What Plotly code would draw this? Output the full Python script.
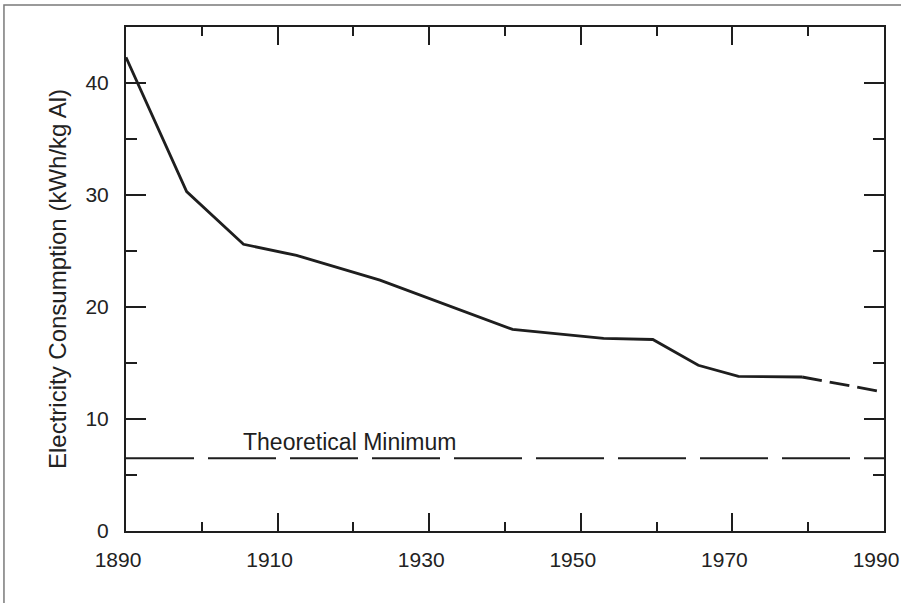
import plotly.graph_objects as go

# Historical (solid) series
years_actual = [1890, 1898, 1905.5, 1912.5, 1923.5, 1941, 1953, 1959.5, 1965.5, 1970.8, 1979.2]
kwh_actual = [42.3, 30.3, 25.6, 24.6, 22.4, 18.0, 17.2, 17.1, 14.8, 13.8, 13.75]
# Projected (dashed) series
years_proj = [1979.2, 1990]
kwh_proj = [13.75, 12.4]
# Theoretical minimum
years_min = [1890, 1990]
kwh_min = [6.5, 6.5]
min_label = "Theoretical Minimum"

x_ticks = [1890, 1910, 1930, 1950, 1970, 1990]
y_ticks = [0, 10, 20, 30, 40]

ink = "#1e1e1e"
font_family = "Liberation Sans, Arial, Helvetica, sans-serif"

fig = go.Figure()
fig.add_trace(go.Scatter(x=years_min, y=kwh_min, mode="lines",
                         line=dict(color=ink, width=2, dash="68px,14px"),
                         showlegend=False, hoverinfo="skip"))
fig.add_trace(go.Scatter(x=years_actual, y=kwh_actual, mode="lines",
                         line=dict(color=ink, width=2.8),
                         showlegend=False))
fig.add_trace(go.Scatter(x=years_proj, y=kwh_proj, mode="lines",
                         line=dict(color=ink, width=2.8, dash="20px,8px"),
                         showlegend=False))

fig.add_annotation(x=1905.2, y=kwh_min[0], text=min_label, showarrow=False,
                   xanchor="left", yanchor="bottom", yshift=1,
                   font=dict(size=23, color=ink, family=font_family))

# outer frame (left and top visible)
fig.add_shape(type="rect", xref="paper", yref="paper",
              x0=-0.161, x1=1.2, y0=-0.3, y1=1.0437,
              line=dict(color="#7a7a7a", width=1.5), layer="below")

axis_common = dict(showline=True, linecolor=ink, linewidth=2, mirror="allticks",
                   ticks="inside", tickcolor=ink, tickwidth=2, showgrid=False,
                   zeroline=False, automargin=False,
                   tickfont=dict(size=21, color="#222", family=font_family))

fig.update_xaxes(range=[1890, 1990], tickvals=x_ticks, ticklen=18,
                 ticklabelstandoff=9, ticklabelshift=-8, ticklabeloverflow="allow",
                 minor=dict(dtick=10, tick0=1890, ticklen=9, tickwidth=2, tickcolor=ink,
                            ticks="inside", showgrid=False),
                 **axis_common)
fig.update_yaxes(range=[0, 45], tickvals=y_ticks, ticklen=20,
                 ticklabelstandoff=11,
                 minor=dict(dtick=5, tick0=0, ticklen=11, tickwidth=2, tickcolor=ink,
                            ticks="inside", showgrid=False),
                 title=dict(text="Electricity Consumption (kWh/kg Al)", standoff=12,
                            font=dict(size=24, color="#222", family=font_family)),
                 **axis_common)

fig.update_layout(width=901, height=603,
                  margin=dict(l=126, r=17, t=27, b=72, autoexpand=False),
                  paper_bgcolor="white", plot_bgcolor="white",
                  font=dict(family=font_family, color=ink))

fig.write_html("out.html", config={"displayModeBar": False},
               post_script="document.body.style.margin='0';document.body.style.overflow='hidden';")
